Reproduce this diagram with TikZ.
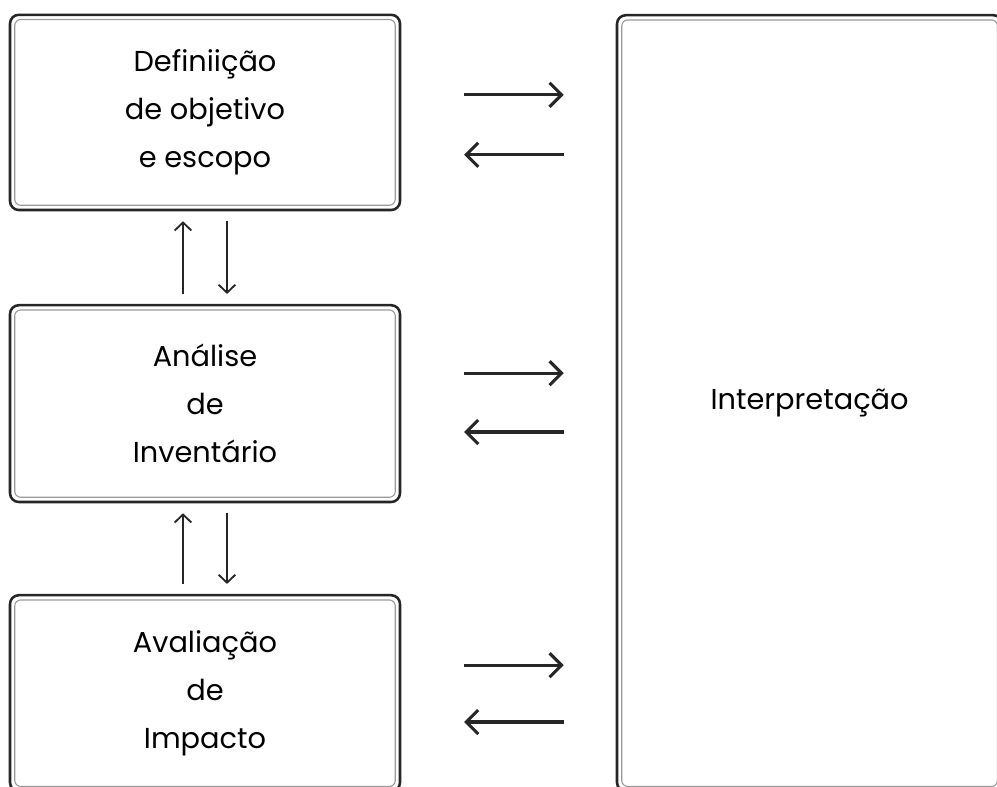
\documentclass[tikz,border=0pt]{standalone}
\usepackage{fontspec}
\setmainfont{Poppins}
\usetikzlibrary{arrows.meta, positioning}

\begin{document}
\begin{tikzpicture}[>={Straight Barb[length=0.3cm, width=0.6cm]}, thick]

        \useasboundingbox (0,0) rectangle (24.925,-19.675);

        \tikzset{
            caixa/.style={draw=black!85, line width=1.8pt, rounded corners=0.22cm,
                align=center, font=\fontsize{20.5}{34}\selectfont, anchor=center},
            borda/.style={draw=black!40, line width=0.8pt, rounded corners=0.15cm},
            seta/.style={->, line width=2.2pt, black!85},
            setav/.style={-{Straight Barb[length=0.2cm, width=0.42cm]}, line width=1.3pt, black!85}
        }

        \coordinate (A) at (5.125,-2.81);
        \coordinate (B) at (5.125,-10.09);
        \coordinate (C) at (5.125,-17.33);
        \coordinate (D) at (20.24,-10.08);

        \node[caixa, minimum width=9.75cm, minimum height=4.88cm] (def) at (A) {Definiição\\de objetivo\\ e escopo};
        \node[caixa, minimum width=9.75cm, minimum height=4.92cm] (ana) at (B) {Análise\\de\\Inventário};
        \node[caixa, minimum width=9.75cm, minimum height=4.9cm] (ava) at (C) {Avaliação\\de\\Impacto};
        \node[caixa, minimum width=9.63cm, minimum height=19.4cm] (interp) at (D) {Interpretação};

        % linha interna das caixas
        \foreach \n in {def, ana, ava, interp}
            \draw[borda] ([shift={(0.15,-0.15)}]\n.north west) rectangle ([shift={(-0.15,0.15)}]\n.south east);

        % setas entre etapas e interpretacao
        \draw[seta, shorten <=1.57cm, shorten >=1.3cm] ([yshift=0.44cm]def.east) -- ([yshift=0.44cm]def.east -| interp.west);
        \draw[seta, shorten <=1.3cm, shorten >=1.57cm] ([yshift=-1.06cm]def.east -| interp.west) -- ([yshift=-1.06cm]def.east);

        \draw[seta, shorten <=1.57cm, shorten >=1.3cm] ([yshift=0.76cm]ana.east) -- ([yshift=0.76cm]ana.east -| interp.west);
        \draw[seta, shorten <=1.3cm, shorten >=1.57cm] ([yshift=-0.71cm]ana.east -| interp.west) -- ([yshift=-0.71cm]ana.east);

        \draw[seta, shorten <=1.57cm, shorten >=1.3cm] ([yshift=0.7cm]ava.east) -- ([yshift=0.7cm]ava.east -| interp.west);
        \draw[seta, shorten <=1.3cm, shorten >=1.57cm] ([yshift=-0.72cm]ava.east -| interp.west) -- ([yshift=-0.72cm]ava.east);

        % setas verticais
        \draw[setav, shorten <=0.25cm, shorten >=0.25cm] ([xshift=-0.55cm]ana.north) -- ([xshift=-0.55cm]def.south);
        \draw[setav, shorten <=0.25cm, shorten >=0.25cm] ([xshift=0.55cm]def.south) -- ([xshift=0.55cm]ana.north);

        \draw[setav, shorten <=0.25cm, shorten >=0.25cm] ([xshift=-0.55cm]ava.north) -- ([xshift=-0.55cm]ana.south);
        \draw[setav, shorten <=0.25cm, shorten >=0.25cm] ([xshift=0.55cm]ana.south) -- ([xshift=0.55cm]ava.north);

    \end{tikzpicture}
\end{document}
